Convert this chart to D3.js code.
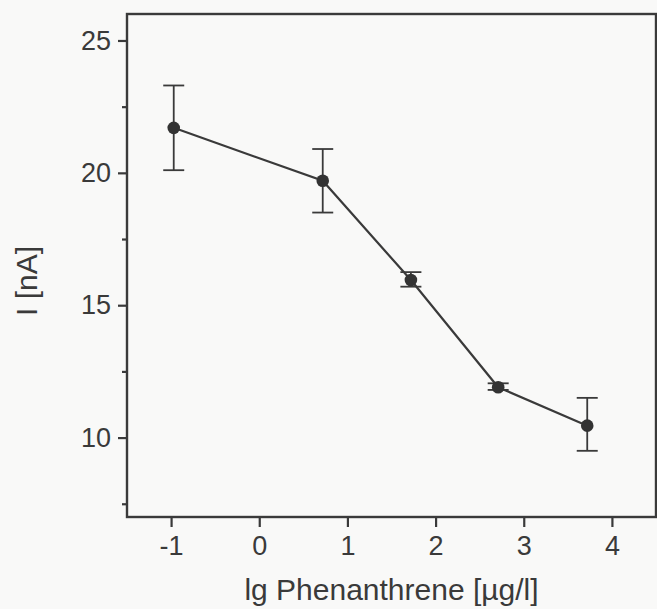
<!DOCTYPE html>
<html>
<head>
<meta charset="utf-8">
<script src="https://cdn.jsdelivr.net/npm/d3@7"></script>
<style>
  body { margin: 0; background: #f9f9f8; }
  svg { display: block; }
  text { font-family: "Liberation Sans", Arial, sans-serif; fill: #3a3a3a; }
</style>
</head>
<body>
<svg id="chart" width="657" height="609"></svg>
<script>
// data
var conc = [-0.97, 0.72, 1.72, 2.71, 3.72];
var current = [21.7, 19.7, 15.95, 11.9, 10.45];
var errLow = [20.1, 18.5, 15.7, 11.8, 9.5];
var errHigh = [23.3, 20.9, 16.25, 12.05, 11.5];

var xTicks = [-1, 0, 1, 2, 3, 4];
var yTicks = [10, 15, 20, 25];
var yMinorTicks = [7.5, 12.5, 17.5, 22.5];

var svg = d3.select("#chart");
var ink = "#3a3a3a";

var margin = { left: 127, top: 14, right: 1, bottom: 92 };
var width = 657 - margin.left - margin.right;
var height = 609 - margin.top - margin.bottom;

var x = d3.scaleLinear().domain([-1.5, 4.5]).range([0, width]);
var y = d3.scaleLinear().domain([7, 26]).range([height, 0]);

var g = svg.append("g")
    .attr("transform", "translate(" + margin.left + "," + margin.top + ")");

// axes
var xAxis = g.append("g")
    .attr("transform", "translate(0," + height + ")")
    .call(d3.axisBottom(x).tickValues(xTicks).tickSize(10).tickPadding(9)
        .tickFormat(d3.format("d")));

var yAxis = g.append("g")
    .call(d3.axisLeft(y).tickValues(yTicks).tickSize(9).tickPadding(7));

var yMinor = g.append("g")
    .call(d3.axisLeft(y).tickValues(yMinorTicks).tickSize(5).tickFormat(""));

[xAxis, yAxis, yMinor].forEach(function (a) {
    a.select(".domain").remove();
    a.selectAll("line").attr("stroke", ink).attr("stroke-width", 2.2);
    a.selectAll("text").attr("font-size", 27).attr("fill", ink)
        .style("font-family", "'Liberation Sans', Arial, sans-serif");
});
xAxis.selectAll("text").text(function (d) { return d < 0 ? "-" + Math.abs(d) : d; });

// frame
g.append("rect")
    .attr("width", width)
    .attr("height", height)
    .attr("fill", "none")
    .attr("stroke", ink)
    .attr("stroke-width", 2.4);

// data line
var pts = conc.map(function (c, i) {
    return { x: c, y: current[i], lo: errLow[i], hi: errHigh[i] };
});

g.append("path")
    .datum(pts)
    .attr("fill", "none")
    .attr("stroke", ink)
    .attr("stroke-width", 2.2)
    .attr("d", d3.line().x(function (d) { return x(d.x); }).y(function (d) { return y(d.y); }));

// error bars
var eb = g.selectAll(".err").data(pts).enter().append("g").attr("class", "err")
    .attr("stroke", ink).attr("stroke-width", 1.8);
eb.append("line")
    .attr("x1", function (d) { return x(d.x); })
    .attr("x2", function (d) { return x(d.x); })
    .attr("y1", function (d) { return y(d.lo); })
    .attr("y2", function (d) { return y(d.hi); });
eb.append("line")
    .attr("x1", function (d) { return x(d.x) - 10.5; })
    .attr("x2", function (d) { return x(d.x) + 10.5; })
    .attr("y1", function (d) { return y(d.hi); })
    .attr("y2", function (d) { return y(d.hi); });
eb.append("line")
    .attr("x1", function (d) { return x(d.x) - 10.5; })
    .attr("x2", function (d) { return x(d.x) + 10.5; })
    .attr("y1", function (d) { return y(d.lo); })
    .attr("y2", function (d) { return y(d.lo); });

// markers
g.selectAll(".pt").data(pts).enter().append("circle")
    .attr("class", "pt")
    .attr("cx", function (d) { return x(d.x); })
    .attr("cy", function (d) { return y(d.y); })
    .attr("r", 6.3)
    .attr("fill", "#333");

// axis titles
svg.append("text")
    .attr("x", margin.left + width / 2)
    .attr("y", 600)
    .attr("text-anchor", "middle")
    .attr("font-size", 30)
    .text("lg Phenanthrene [\u00b5g/l]");

svg.append("text")
    .attr("transform", "translate(37,281) rotate(-90)")
    .attr("text-anchor", "middle")
    .attr("font-size", 30)
    .text("I [nA]");
</script>
</body>
</html>
